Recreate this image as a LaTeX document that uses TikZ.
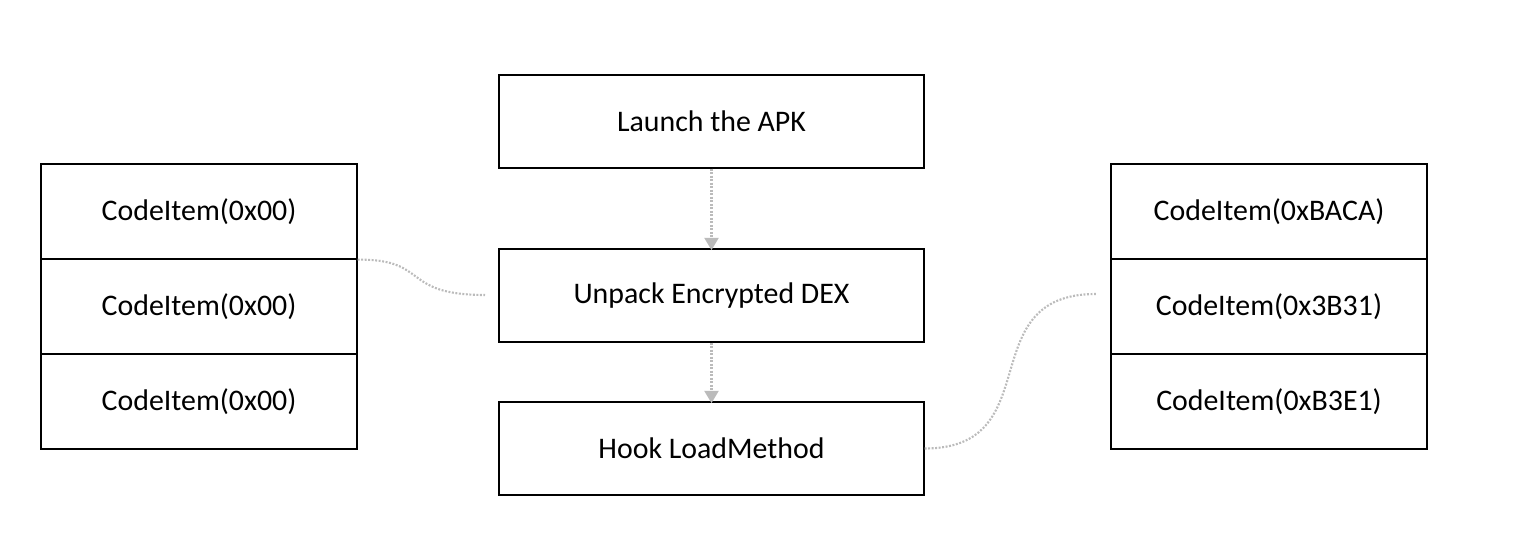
\documentclass[tikz,border=0pt]{standalone}
\usepackage{fontspec}
\setmainfont{Carlito}
\usetikzlibrary{arrows.meta}
\definecolor{linkgray}{HTML}{BBBBBB}

\begin{document}
\begin{tikzpicture}[
    block/.style={draw, line width=0.7pt, minimum width=8.5cm, minimum height=1.86cm, inner sep=0pt, font=\fontsize{17}{20}\selectfont},
    cell/.style={draw, line width=0.7pt, minimum width=6.32cm, minimum height=1.9cm, inner sep=0pt, font=\fontsize{17}{20}\selectfont},
    dotlink/.style={linkgray, line width=1.2pt, dash pattern=on 1.1pt off 0.9pt},
    flow/.style={dotlink, -{Triangle[length=7pt, width=8pt]}}
  ]
            \useasboundingbox (0, 0) rectangle (30.64, -10.8);
            \node[block] (launch) at (14.23, -2.43) {Launch the APK};
            \node[block] (unpack) at (14.23, -5.91) {Unpack Encrypted DEX};
            \node[block] (hook) at (14.23, -8.97) {Hook LoadMethod};
            \node[cell] (l1) at (3.98, -4.23) {CodeItem(0x00)};
            \node[cell] (l2) at (3.98, -6.13) {CodeItem(0x00)};
            \node[cell] (l3) at (3.98, -8.03) {CodeItem(0x00)};
            \node[cell] (r1) at (25.38, -4.23) {CodeItem(0xBACA)};
            \node[cell] (r2) at (25.38, -6.13) {CodeItem(0x3B31)};
            \node[cell] (r3) at (25.38, -8.03) {CodeItem(0xB3E1)};
            \coordinate (lend) at (9.70, -5.90);
            \coordinate (rend) at (21.92, -5.88);
            \draw[flow] (launch.south) -- ([yshift=-1pt]unpack.north);
            \draw[flow] (unpack.south) -- ([yshift=-1pt]hook.north);
            \draw[dotlink] (l1.south east) .. controls (8.6, -5.18) and (8.0, -5.90) .. (lend);
            \draw[dotlink] (hook.east) .. controls (21.0, -8.97) and (19.4, -5.88) .. (rend);
\end{tikzpicture}
\end{document}
